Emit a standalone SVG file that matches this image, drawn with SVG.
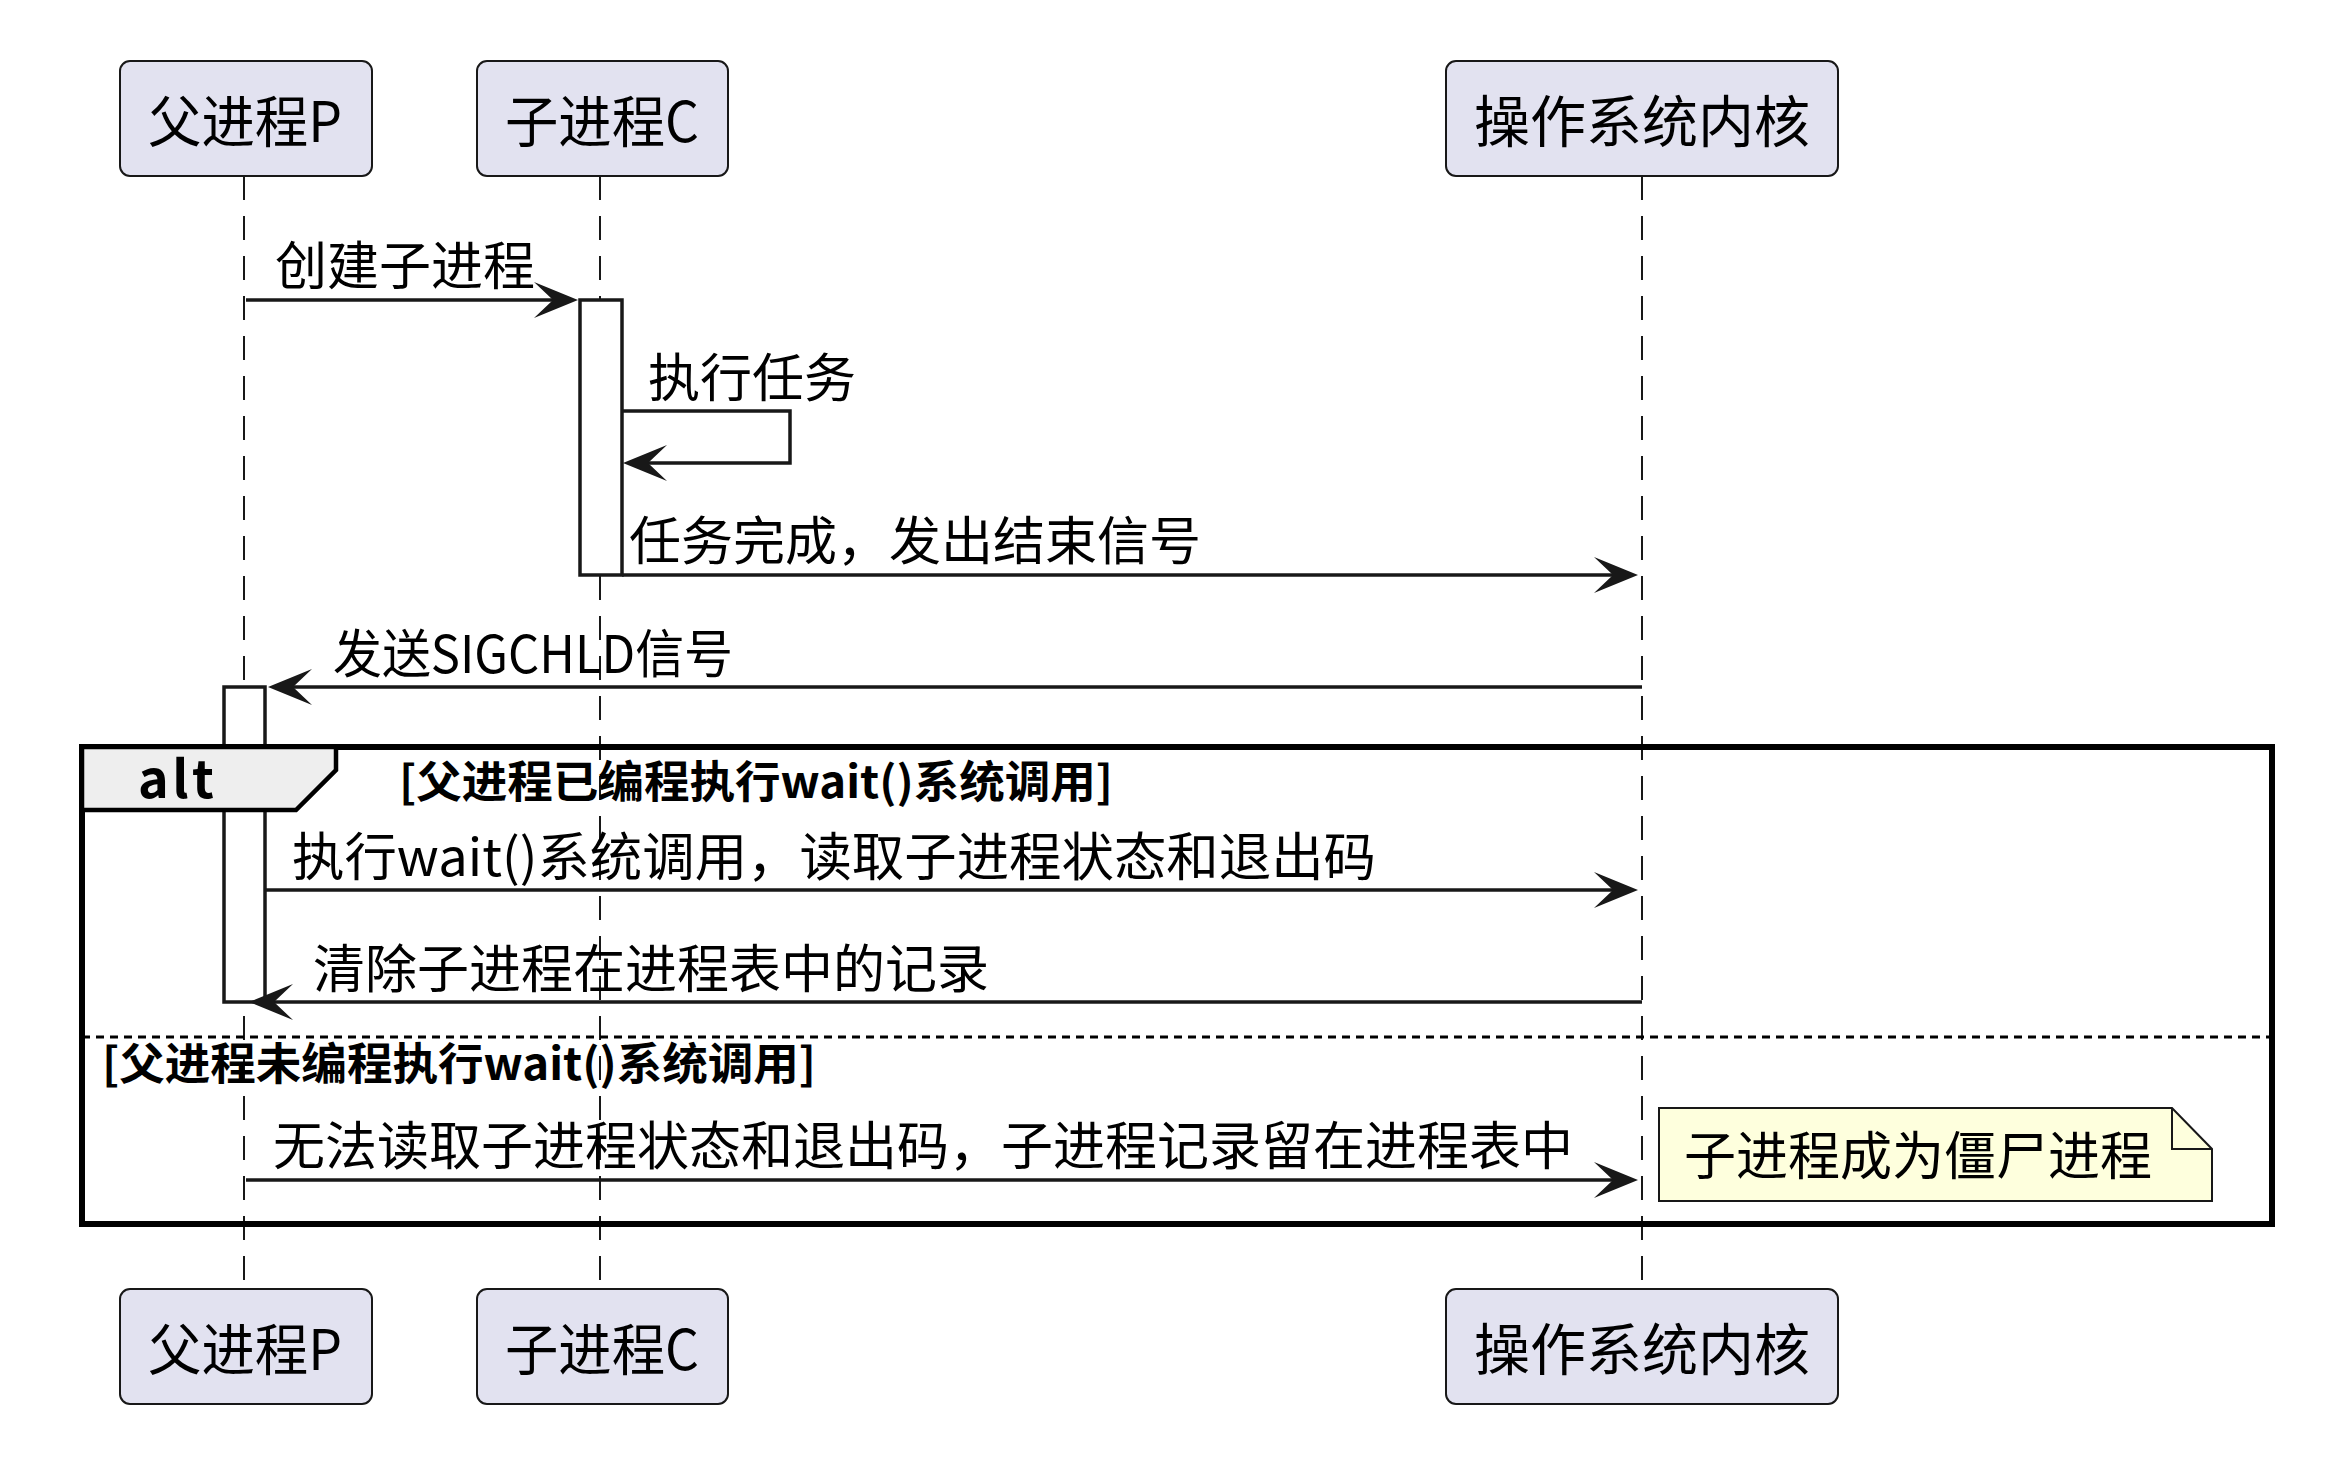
<svg xmlns="http://www.w3.org/2000/svg" width="2340" height="1468" viewBox="0 0 2340 1468">
<style>
text{font-family:"Noto Sans CJK SC","Noto Sans",sans-serif;fill:#000}
.pbox{fill:#E2E2F0;stroke:#181818;stroke-width:2}
.ptxt{font-size:56px;text-anchor:middle}
.life{stroke:#181818;stroke-width:2;stroke-dasharray:24,16;fill:none}
.act{fill:#FFFFFF;stroke:#181818;stroke-width:3.5}
.msg{stroke:#181818;stroke-width:3.5;fill:none;marker-end:url(#ah)}
.mtxt{font-size:52px}
.cond{font-size:44px;font-weight:bold}
</style>
<defs>
<marker id="ah" markerUnits="userSpaceOnUse" viewBox="-50 -25 60 50" markerWidth="60" markerHeight="50" refX="0" refY="0" orient="auto">
<path d="M8,0 L-36,-18 L-17,0 L-36,18 Z" fill="#181818"/>
</marker>
</defs>
<rect width="2340" height="1468" fill="#FFFFFF"/>
<g id="lifelines">
<line class="life" x1="244" y1="176" x2="244" y2="1288"/>
<line class="life" x1="600" y1="176" x2="600" y2="1288"/>
<line class="life" x1="1642" y1="176" x2="1642" y2="1288"/>
</g>
<g id="participant-P">
<rect class="pbox" x="120" y="61" width="252" height="115" rx="10"/>
<text class="ptxt" x="245" y="142" textLength="194" lengthAdjust="spacingAndGlyphs">父进程P</text>
<rect class="pbox" x="120" y="1289" width="252" height="115" rx="10"/>
<text class="ptxt" x="245" y="1370" textLength="194" lengthAdjust="spacingAndGlyphs">父进程P</text>
</g>
<g id="participant-C">
<rect class="pbox" x="477" y="61" width="251" height="115" rx="10"/>
<text class="ptxt" x="602" y="142" textLength="194" lengthAdjust="spacingAndGlyphs">子进程C</text>
<rect class="pbox" x="477" y="1289" width="251" height="115" rx="10"/>
<text class="ptxt" x="602" y="1370" textLength="194" lengthAdjust="spacingAndGlyphs">子进程C</text>
</g>
<g id="participant-K">
<rect class="pbox" x="1446" y="61" width="392" height="115" rx="10"/>
<text class="ptxt" x="1642" y="142">操作系统内核</text>
<rect class="pbox" x="1446" y="1289" width="392" height="115" rx="10"/>
<text class="ptxt" x="1642" y="1370">操作系统内核</text>
</g>
<g id="activations">
<rect class="act" x="580" y="300" width="42" height="275"/>
<rect class="act" x="224" y="687" width="41" height="315"/>
</g>
<g id="alt-frame">
<rect x="82" y="747" width="2190" height="477" fill="none" stroke="#000" stroke-width="6"/>
<polygon points="82,747 336,747 336,770 296,810 82,810" fill="#EEEEEE" stroke="#000" stroke-width="4.5"/>
<text x="138" y="798" font-size="52" font-weight="bold" textLength="76" lengthAdjust="spacing">alt</text>
<text class="cond" x="399" y="798" textLength="714" lengthAdjust="spacingAndGlyphs">[父进程已编程执行wait()系统调用]</text>
<line x1="82" y1="1037" x2="2272" y2="1037" stroke="#000" stroke-width="3" stroke-dasharray="8,6"/>
<text class="cond" x="102" y="1080" textLength="714" lengthAdjust="spacingAndGlyphs">[父进程未编程执行wait()系统调用]</text>
</g>
<g id="connectors">
<line class="msg" x1="246" y1="300" x2="570" y2="300"/>
<text class="mtxt" x="275" y="285">创建子进程</text>
<polyline class="msg" points="622,411 790,411 790,463 631,463"/>
<text class="mtxt" x="648" y="397">执行任务</text>
<line class="msg" x1="622" y1="575" x2="1630" y2="575"/>
<text class="mtxt" x="629" y="560">任务完成，发出结束信号</text>
<line class="msg" x1="1642" y1="687" x2="276" y2="687"/>
<text class="mtxt" x="333" y="673" textLength="400" lengthAdjust="spacingAndGlyphs">发送SIGCHLD信号</text>
<line class="msg" x1="265" y1="890" x2="1630" y2="890"/>
<text class="mtxt" x="292" y="876" textLength="1084" lengthAdjust="spacingAndGlyphs">执行wait()系统调用，读取子进程状态和退出码</text>
<line class="msg" x1="1642" y1="1002" x2="257" y2="1002"/>
<text class="mtxt" x="313" y="988">清除子进程在进程表中的记录</text>
<line class="msg" x1="246" y1="1180" x2="1630" y2="1180"/>
<text class="mtxt" x="273" y="1165">无法读取子进程状态和退出码，子进程记录留在进程表中</text>
</g>
<g id="note">
<path d="M1659,1108 L2172,1108 L2212,1149 L2212,1201 L1659,1201 Z" fill="#FEFFDD" stroke="#181818" stroke-width="2"/>
<path d="M2172,1108 L2172,1149 L2212,1149" fill="none" stroke="#181818" stroke-width="2"/>
<text x="1684" y="1175" font-size="52">子进程成为僵尸进程</text>
</g>
</svg>
